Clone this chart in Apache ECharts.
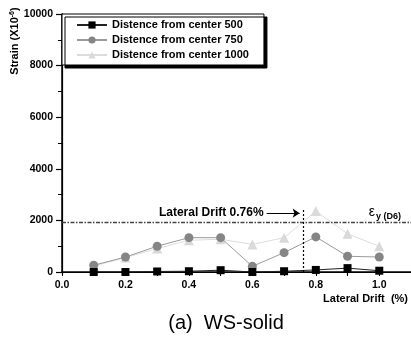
<!DOCTYPE html>
<html>
<head>
<meta charset="utf-8">
<script src="https://cdn.jsdelivr.net/npm/echarts@6/dist/echarts.min.js"></script>
<style>
  html, body { margin: 0; padding: 0; background: #fff; }
  #chart { width: 411px; height: 340px; }
</style>
</head>
<body>
<div id="chart"></div>
<script>
// 数据
var drift = [0.1, 0.2, 0.3, 0.4, 0.5, 0.6, 0.7, 0.8, 0.9, 1.0];
var d500 = [0, 0, 20, 30, 70, 0, 30, 80, 150, 50];
var d750 = [260, 580, 1000, 1330, 1330, 220, 750, 1360, 610, 580];
var d1000 = [230, 560, 910, 1230, 1270, 1070, 1330, 2360, 1480, 1000];
var seriesNames = ['Distence from center 500', 'Distence from center 750', 'Distence from center 1000'];
var yieldStrain = 1910;   // εy (D6)
var driftMark = 0.76;     // Lateral Drift 0.76%

var FONT = 'Liberation Sans, Arial, sans-serif';

function pairs(ys) {
  return drift.map(function (x, i) { return [x, ys[i]]; });
}

(function () {
  var myChart = echarts.init(document.getElementById('chart'));
  var option = {
    animation: false,
    grid: { left: 62, top: 14, right: -2, bottom: 68 },
    legend: {
      orient: 'vertical',
      left: 62,
      top: 14,
      padding: [4, 15, 3, 14],
      itemWidth: 30,
      itemHeight: 9,
      itemGap: 1,
      backgroundColor: '#fff',
      borderColor: '#000',
      borderWidth: 1,
      shadowColor: '#000',
      shadowOffsetX: 3,
      shadowOffsetY: 3,
      shadowBlur: 0,
      textStyle: { fontFamily: FONT, fontWeight: 'bold', fontSize: 11, color: '#000', lineHeight: 14 },
      data: seriesNames
    },
    xAxis: [
      {
        type: 'value', min: 0, max: 1.1, interval: 0.1,
        axisLine: { show: true, lineStyle: { color: '#000', width: 1.5 } },
        axisTick: { show: true, length: 3, lineStyle: { color: '#000', width: 1.2 } },
        axisLabel: {
          showMaxLabel: false,
          margin: 8,
          fontFamily: FONT, fontWeight: 'bold', fontSize: 10.5, color: '#000',
          formatter: function (v) {
            var k = Math.round(v * 10);
            return k % 2 === 0 ? (k / 10).toFixed(1) : '';
          }
        },
        splitLine: { show: false }
      },
      {
        type: 'value', min: 0, max: 1.1, interval: 0.1, position: 'top',
        axisLine: { show: true, lineStyle: { color: '#000', width: 1.2 } },
        axisTick: { show: true, inside: true, length: 4, lineStyle: { color: '#000' } },
        axisLabel: { show: false },
        splitLine: { show: false }
      }
    ],
    yAxis: [
      {
        type: 'value', min: 0, max: 10000, interval: 2000,
        axisLine: { show: true, lineStyle: { color: '#000', width: 1.5 } },
        axisTick: { show: true, length: 6, lineStyle: { color: '#000', width: 1.2 } },
        minorTick: { show: true, splitNumber: 2, length: 4, lineStyle: { color: '#000', width: 1 } },
        axisLabel: {
          margin: 9, fontFamily: FONT, fontWeight: 'bold', fontSize: 10.5, color: '#000',
          formatter: function (v) { return String(v); }
        },
        splitLine: { show: false }
      },
      {
        type: 'value', min: 0, max: 10000, interval: 1000, position: 'right',
        axisLine: { show: true, lineStyle: { color: '#000', width: 1.2 } },
        axisTick: { show: true, inside: true, length: 4, lineStyle: { color: '#000' } },
        axisLabel: { show: false },
        splitLine: { show: false }
      }
    ],
    series: [
      {
        name: seriesNames[0],
        type: 'line',
        data: pairs(d500),
        symbol: 'rect',
        symbolSize: 8,
        z: 4,
        itemStyle: { color: '#000' },
        lineStyle: { color: '#222', width: 1 },
        markLine: {
          silent: true,
          symbol: ['none', 'none'],
          animation: false,
          data: [
            {
              yAxis: yieldStrain,
              lineStyle: { color: '#444', width: 1.3, type: [4, 1.5, 1.5, 1.5] },
              label: {
                show: true,
                position: 'insideEndTop',
                distance: [10, 2],
                formatter: '{e|ε}{s|y (D6)}',
                rich: {
                  e: { fontFamily: FONT, fontSize: 14, color: '#000', verticalAlign: 'top', lineHeight: 16 },
                  s: { fontFamily: FONT, fontWeight: 'bold', fontSize: 9, color: '#000', verticalAlign: 'bottom', lineHeight: 16, padding: [6, 0, 0, 1] }
                }
              }
            },
            [
              { coord: [driftMark, 0], lineStyle: { color: '#000', width: 1.2, type: [2, 2] }, label: { show: false } },
              { coord: [driftMark, 2430] }
            ],
            [
              {
                coord: [0.645, 2280], symbol: 'none',
                lineStyle: { color: '#000', width: 1.2, type: 'solid' },
                label: {
                  show: true, position: 'start', distance: 3,
                  formatter: 'Lateral Drift 0.76%',
                  fontFamily: FONT, fontWeight: 'bold', fontSize: 12, color: '#000'
                }
              },
              { coord: [0.749, 2280], symbol: 'arrow', symbolSize: 7 }
            ]
          ]
        }
      },
      {
        name: seriesNames[1],
        type: 'line',
        data: pairs(d750),
        symbol: 'circle',
        symbolSize: 9,
        z: 3,
        itemStyle: { color: '#858585' },
        lineStyle: { color: '#9a9a9a', width: 1 }
      },
      {
        name: seriesNames[2],
        type: 'line',
        data: pairs(d1000),
        symbol: 'triangle',
        symbolSize: 10,
        z: 2,
        itemStyle: { color: '#d9d9d9' },
        lineStyle: { color: '#dcdcdc', width: 1 }
      }
    ],
    graphic: [
      {
        type: 'text',
        x: 15, y: 41,
        rotation: Math.PI / 2,
        style: {
          text: 'Strain (X10{sup|-6})',
          align: 'center', verticalAlign: 'middle',
          font: 'bold 11px ' + FONT,
          fill: '#000',
          rich: {
            sup: { font: 'bold 7px ' + FONT, fill: '#000', verticalAlign: 'top', padding: [0, 0, 6, 0] }
          }
        }
      },
      {
        type: 'text',
        x: 408, y: 299,
        style: {
          text: 'Lateral Drift  (%)',
          align: 'right', verticalAlign: 'middle',
          font: 'bold 11px ' + FONT,
          fill: '#000'
        }
      },
      {
        type: 'text',
        x: 226, y: 323,
        style: {
          text: '(a)  WS-solid',
          align: 'center', verticalAlign: 'middle',
          font: '20px ' + FONT,
          fill: '#000'
        }
      }
    ]
  };
  myChart.setOption(option);
  window.addEventListener('resize', function () {
    myChart.resize();
  });
})();
</script>
</body>
</html>
